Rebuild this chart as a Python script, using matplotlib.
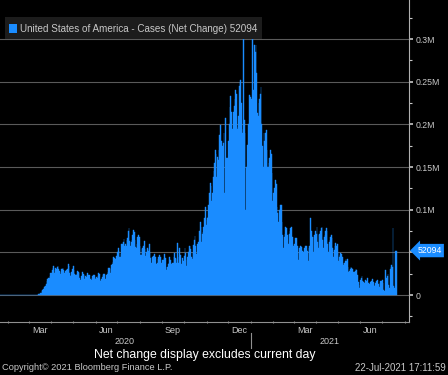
# Bloomberg style chart: US daily COVID-19 cases (net change)
import pandas as pd
import matplotlib
matplotlib.use('Agg')
import matplotlib.pyplot as plt
import matplotlib.dates as mdates
from matplotlib.ticker import FixedLocator, MultipleLocator

# daily net change in cases, thousands, Mon-Sun rows starting 2020-01-20
cases_2020 = [
    0, 0, 0, 0, 0, 0, 0,
    0, 0, 0, 0, 0, 0, 0,
    0, 0, 0, 0, 0, 0, 0,
    0, 0, 0, 0, 0, 0, 0,
    0, 0, 0, 0, 0, 0, 0,
    0, 0, 0, 0, 0, 0, 0,
    0.02, 0.03, 0.04, 0.07, 0.1, 0.1, 0.15,
    0.2, 0.3, 0.4, 0.5, 0.6, 0.9, 1.0,
    1.5, 1.9, 2.9, 4.7, 5.6, 6.9, 9.3,
    10.5, 10.6, 13.0, 17.0, 18.7, 19.5, 20.5,
    22, 26, 26, 29, 32, 34, 26,
    29, 32, 31, 33, 34, 30, 28,
    25, 27, 30, 31, 32, 29, 26,
    28, 26, 29, 31, 36, 34, 26,
    22, 24, 27, 30, 34, 29, 25,
    23, 24, 25, 28, 27, 26, 20,
    18, 22, 21, 27, 25, 24, 19,
    22, 21, 23, 26, 24, 23, 19,
    19, 18, 20, 22, 24, 24, 20,
    19, 21, 20, 22, 26, 25, 18,
    17, 19, 21, 23, 25, 25, 19,
    19, 23, 25, 27, 32, 32, 26,
    30, 35, 36, 39, 45, 43, 42,
    41, 46, 50, 55, 52, 45, 44,
    48, 60, 60, 62, 66, 58, 60,
    58, 64, 67, 75, 78, 63, 58,
    62, 65, 70, 76, 74, 65, 56,
    55, 60, 68, 70, 68, 58, 47,
    47, 54, 55, 58, 63, 54, 46,
    50, 55, 54, 52, 60, 50, 43,
    37, 44, 45, 46, 48, 45, 35,
    36, 38, 42, 45, 47, 44, 35,
    37, 41, 41, 43, 48, 43, 33,
    29, 33, 36, 37, 45, 41, 36,
    35, 38, 38, 44, 49, 43, 37,
    42, 61, 38, 44, 55, 47, 36,
    33, 43, 40, 46, 55, 49, 34,
    41, 45, 50, 58, 58, 54, 45,
    42, 50, 59, 64, 69, 57, 48,
    60, 60, 62, 75, 86, 80, 62,
    72, 74, 80, 90, 103, 88, 82,
    90, 92, 105, 120, 131, 128, 110,
    120, 138, 145, 155, 170, 165, 138,
    162, 158, 170, 188, 199, 180, 160,
    175, 178, 190, 120, 208, 160, 140,
    160, 180, 200, 220, 233, 215, 181,
    195, 215, 222, 230, 240, 235, 197,
    195, 210, 245, 250, 252, 225, 190,
    195, 301, 205, 190, 100, 150, 176,
    175, 200, 234, 232,
]

# 2021-01-01 (Fri) to 2021-07-21
cases_2021 = [
    160, 230, 302,
    200, 240, 293, 285, 293, 260, 213,
    210, 225, 230, 235, 244, 200, 175,
    150, 190, 180, 190, 193, 170, 150,
    150, 155, 160, 170, 165, 143, 110,
    120, 115, 125, 135, 130, 103, 96,
    85, 100, 95, 105, 105, 85, 70,
    55, 68, 72, 80, 78, 70, 58,
    60, 72, 75, 78, 80, 68, 55,
    58, 60, 67, 67, 67, 58, 50,
    41, 55, 57, 58, 56, 52, 45,
    50, 55, 57, 58, 58, 52, 40,
    55, 58, 90, 65, 75, 68, 50,
    68, 70, 75, 72, 80, 62, 55,
    70, 72, 75, 78, 80, 65, 55,
    68, 70, 75, 78, 75, 60, 50,
    62, 65, 68, 70, 67, 55, 45,
    53, 58, 61, 58, 60, 50, 40,
    45, 47, 49, 48, 45, 38, 35,
    37, 40, 42, 40, 42, 33, 27,
    28, 30, 33, 32, 31, 27, 22,
    27, 28, 30, 29, 23, 15, 12,
    8, 18, 20, 22, 16, 15, 12,
    14, 18, 16, 17, 20, 14, 10,
    13, 15, 16, 17, 19, 15, 10,
    12, 14, 16, 15, 18, 13, 9,
    14, 17, 16, 18, 14, 6, 5,
    5, 29, 20, 22, 25, 12, 8,
    30, 33, 35, 33, 78, 10, 8,
    52, 50, 52.094,
]

y_ticks = [0, 0.05, 0.1, 0.15, 0.2, 0.25, 0.3]
y_tick_labels = ['0', '', '0.1M', '0.15M', '0.2M', '0.25M', '0.3M']
month_labels = ['Mar', 'Jun', 'Sep', 'Dec', 'Mar', 'Jun']
month_label_dates = ['2020-03-16', '2020-06-15', '2020-09-15',
                     '2020-12-16', '2021-03-16', '2021-06-15']
last_value = 52094

BLUE = '#1a8cff'
FG = '#c8c8c8'
W, H = 448, 375


def fy(py):
    return 1 - py / H


def create_chart():
    plt.rcParams['font.family'] = ['Liberation Sans', 'DejaVu Sans']
    dates = pd.date_range('2020-01-20', '2021-07-21', freq='D')
    values = [v / 1000 for v in cases_2020 + cases_2021]  # millions

    fig = plt.figure(figsize=(W / 100, H / 100), dpi=100, facecolor='black')
    ax = fig.add_axes([0, fy(322), 409 / W, 322 / H])
    ax.set_facecolor('black')

    ax.bar(dates, values, width=1.0, color=BLUE, linewidth=0.3,
           edgecolor=BLUE, zorder=3)

    ax.set_xlim(pd.Timestamp('2020-01-21'), pd.Timestamp('2021-08-07'))
    ax.set_ylim(-0.0316, 0.3457)

    # right hand value axis
    ax.yaxis.tick_right()
    ax.yaxis.set_major_locator(FixedLocator(y_ticks))
    ax.set_yticklabels(y_tick_labels)
    ax.yaxis.set_minor_locator(MultipleLocator(0.025))
    ax.tick_params(axis='y', which='major', colors=FG, labelsize=6.3,
                   length=3, width=1.2, pad=1.5)
    ax.tick_params(axis='y', which='minor', colors=FG, length=2, width=0.8)
    ax.grid(axis='y', color='#5a5a5a', linewidth=0.8, zorder=0)

    for side in ['left', 'top']:
        ax.spines[side].set_visible(False)
    ax.spines['right'].set_color('#b0b0b0')
    ax.spines['bottom'].set_color('#909090')
    ax.spines['bottom'].set_position(('data', -0.0316))

    # month boundaries as ticks, labels centred mid-month
    ax.xaxis.set_major_locator(mdates.MonthLocator())
    ax.xaxis.set_major_formatter(plt.NullFormatter())
    ax.xaxis.set_minor_locator(FixedLocator(
        [mdates.datestr2num(d) for d in month_label_dates]))
    ax.set_xticklabels(month_labels, minor=True)
    ax.tick_params(axis='x', which='major', colors='#909090', length=2,
                   direction='inout', width=0.8)
    ax.tick_params(axis='x', which='minor', colors=FG, length=0,
                   labelsize=6.5, pad=3)

    # year labels and divider
    trans = ax.get_xaxis_transform()
    y_year = -20 / 322
    ax.text(pd.Timestamp('2020-07-11'), y_year, '2020', transform=trans,
            ha='center', va='center', color=FG, fontsize=6.5, clip_on=False)
    ax.text(pd.Timestamp('2021-04-20'), y_year, '2021', transform=trans,
            ha='center', va='center', color=FG, fontsize=6.5, clip_on=False)
    ax.plot([pd.Timestamp('2021-01-01')] * 2, [-11 / 322, -26 / 322],
            transform=trans, color='#909090', lw=0.8, clip_on=False)

    # last value tag
    ax.annotate(str(last_value), xy=(1.0, last_value / 1e6),
                xycoords=('axes fraction', 'data'), xytext=(6, 0),
                textcoords='offset points', ha='left', va='center',
                color='white', fontsize=6.3,
                bbox=dict(boxstyle='larrow,pad=0.25', fc=BLUE, ec='none'))

    # legend box
    fig.patches.append(plt.Rectangle((5 / W, fy(39)), 257 / W, 22 / H,
                                     transform=fig.transFigure,
                                     fc='#1c1c1c', ec='none'))
    fig.patches.append(plt.Rectangle((9 / W, fy(33)), 8 / W, 9 / H,
                                     transform=fig.transFigure,
                                     fc=BLUE, ec='none'))
    fig.text(20 / W, fy(29), 'United States of America - Cases (Net Change) 52094',
             color=FG, fontsize=7.1, va='center', ha='left')

    # footer
    fig.text(205 / W, fy(355), 'Net change display excludes current day',
             color='white', fontsize=8.8, ha='center', va='center')
    fig.text(2 / W, fy(368), 'Copyright\u00a9 2021 Bloomberg Finance L.P.',
             color=FG, fontsize=6.7, ha='left', va='center')
    fig.text(446 / W, fy(368), '22-Jul-2021 17:11:59',
             color=FG, fontsize=7.0, ha='right', va='center')

    fig.savefig('out.png', dpi=100, facecolor='black')


if __name__ == "__main__":
    create_chart()
